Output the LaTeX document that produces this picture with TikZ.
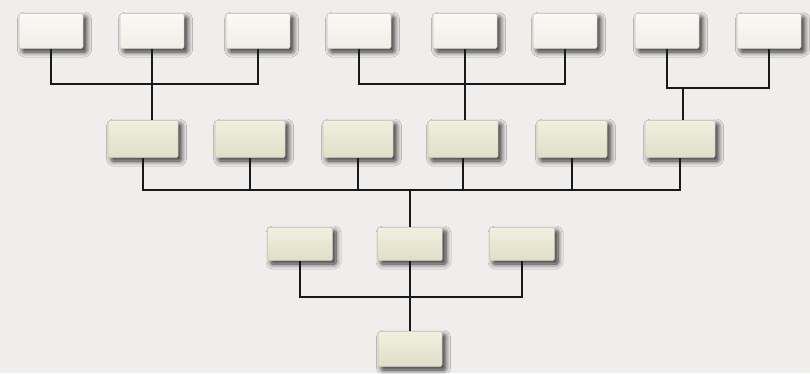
\documentclass[tikz,border=0pt]{standalone}
\usetikzlibrary{shadows.blur}
\definecolor{bg}{HTML}{EFEEEC}
\definecolor{topA}{HTML}{FAF9F5}
\definecolor{topB}{HTML}{EFEEE8}
\definecolor{midA}{HTML}{F1F0E0}
\definecolor{midB}{HTML}{E0DEC6}
\definecolor{edge}{HTML}{C4C2B8}
\tikzset{
  box/.style={draw=edge, line width=0.5pt, rounded corners=1.5pt, inner sep=0pt,
    blur shadow={shadow xshift=3.5pt, shadow yshift=-3.5pt, shadow blur radius=5pt, shadow blur steps=8, shadow opacity=80}},
  topbox/.style={box, minimum width=64pt, minimum height=35pt, top color=topA, bottom color=topB},
  midbox/.style={box, minimum width=70pt, minimum height=37pt, top color=midA, bottom color=midB},
  lowbox/.style={box, minimum width=65pt, minimum height=33pt, top color=midA, bottom color=midB},
  wire/.style={line width=2pt, black!90}
}
\begin{document}
\begin{tikzpicture}[x=1pt,y=-1pt]
\fill[bg] (0,0) rectangle (810,373);
\useasboundingbox (0,0) rectangle (810,373);
% top row
\node[topbox] (t1) at (51,31) {};
\node[topbox] (t2) at (152,31) {};
\node[topbox] (t3) at (258,31) {};
\node[topbox] (t4) at (359,31) {};
\node[topbox] (t5) at (465,31) {};
\node[topbox] (t6) at (565,31) {};
\node[topbox] (t7) at (667,31) {};
\node[topbox] (t8) at (769,31) {};
% second row
\node[midbox] (m1) at (143,139) {};
\node[midbox] (m2) at (250,139) {};
\node[midbox] (m3) at (358,139) {};
\node[midbox] (m4) at (463,139) {};
\node[midbox] (m5) at (572,139) {};
\node[midbox] (m6) at (680,139) {};
% third row
\node[lowbox] (b1) at (300,244) {};
\node[lowbox] (b2) at (410,244) {};
\node[lowbox] (b3) at (522,244) {};
% root
\node[lowbox, minimum height=35pt, minimum width=64pt] (r) at (410,349) {};
% junctions
\coordinate (j1) at (152,84);
\coordinate (j2) at (465,84);
\coordinate (j3) at (683,88);
\coordinate (j4) at (410,190);
\coordinate (j5) at (410,297);
% group 1
\draw[wire] (t1.south) |- (j1) -| (t3.south);
\draw[wire] (t2.south) -- (t2.south |- m1.north);
% group 2
\draw[wire] (t4.south) |- (j2) -| (t6.south);
\draw[wire] (t5.south) -- (t5.south |- m4.north);
% group 3
\draw[wire] (t7.south) |- (j3) -| (t8.south);
\draw[wire] (j3) -- (j3 |- m6.north);
% row 2 to row 3
\draw[wire] (m1.south) |- (j4) -| (m6.south);
\draw[wire] (m2.south) -- (m2.south |- j4);
\draw[wire] (m3.south) -- (m3.south |- j4);
\draw[wire] (m4.south) -- (m4.south |- j4);
\draw[wire] (m5.south) -- (m5.south |- j4);
\draw[wire] (j4) -- (b2.north);
% row 3 to root
\draw[wire] (b1.south) |- (j5) -| (b3.south);
\draw[wire] (b2.south) -- (r.north);
\end{tikzpicture}
\end{document}
